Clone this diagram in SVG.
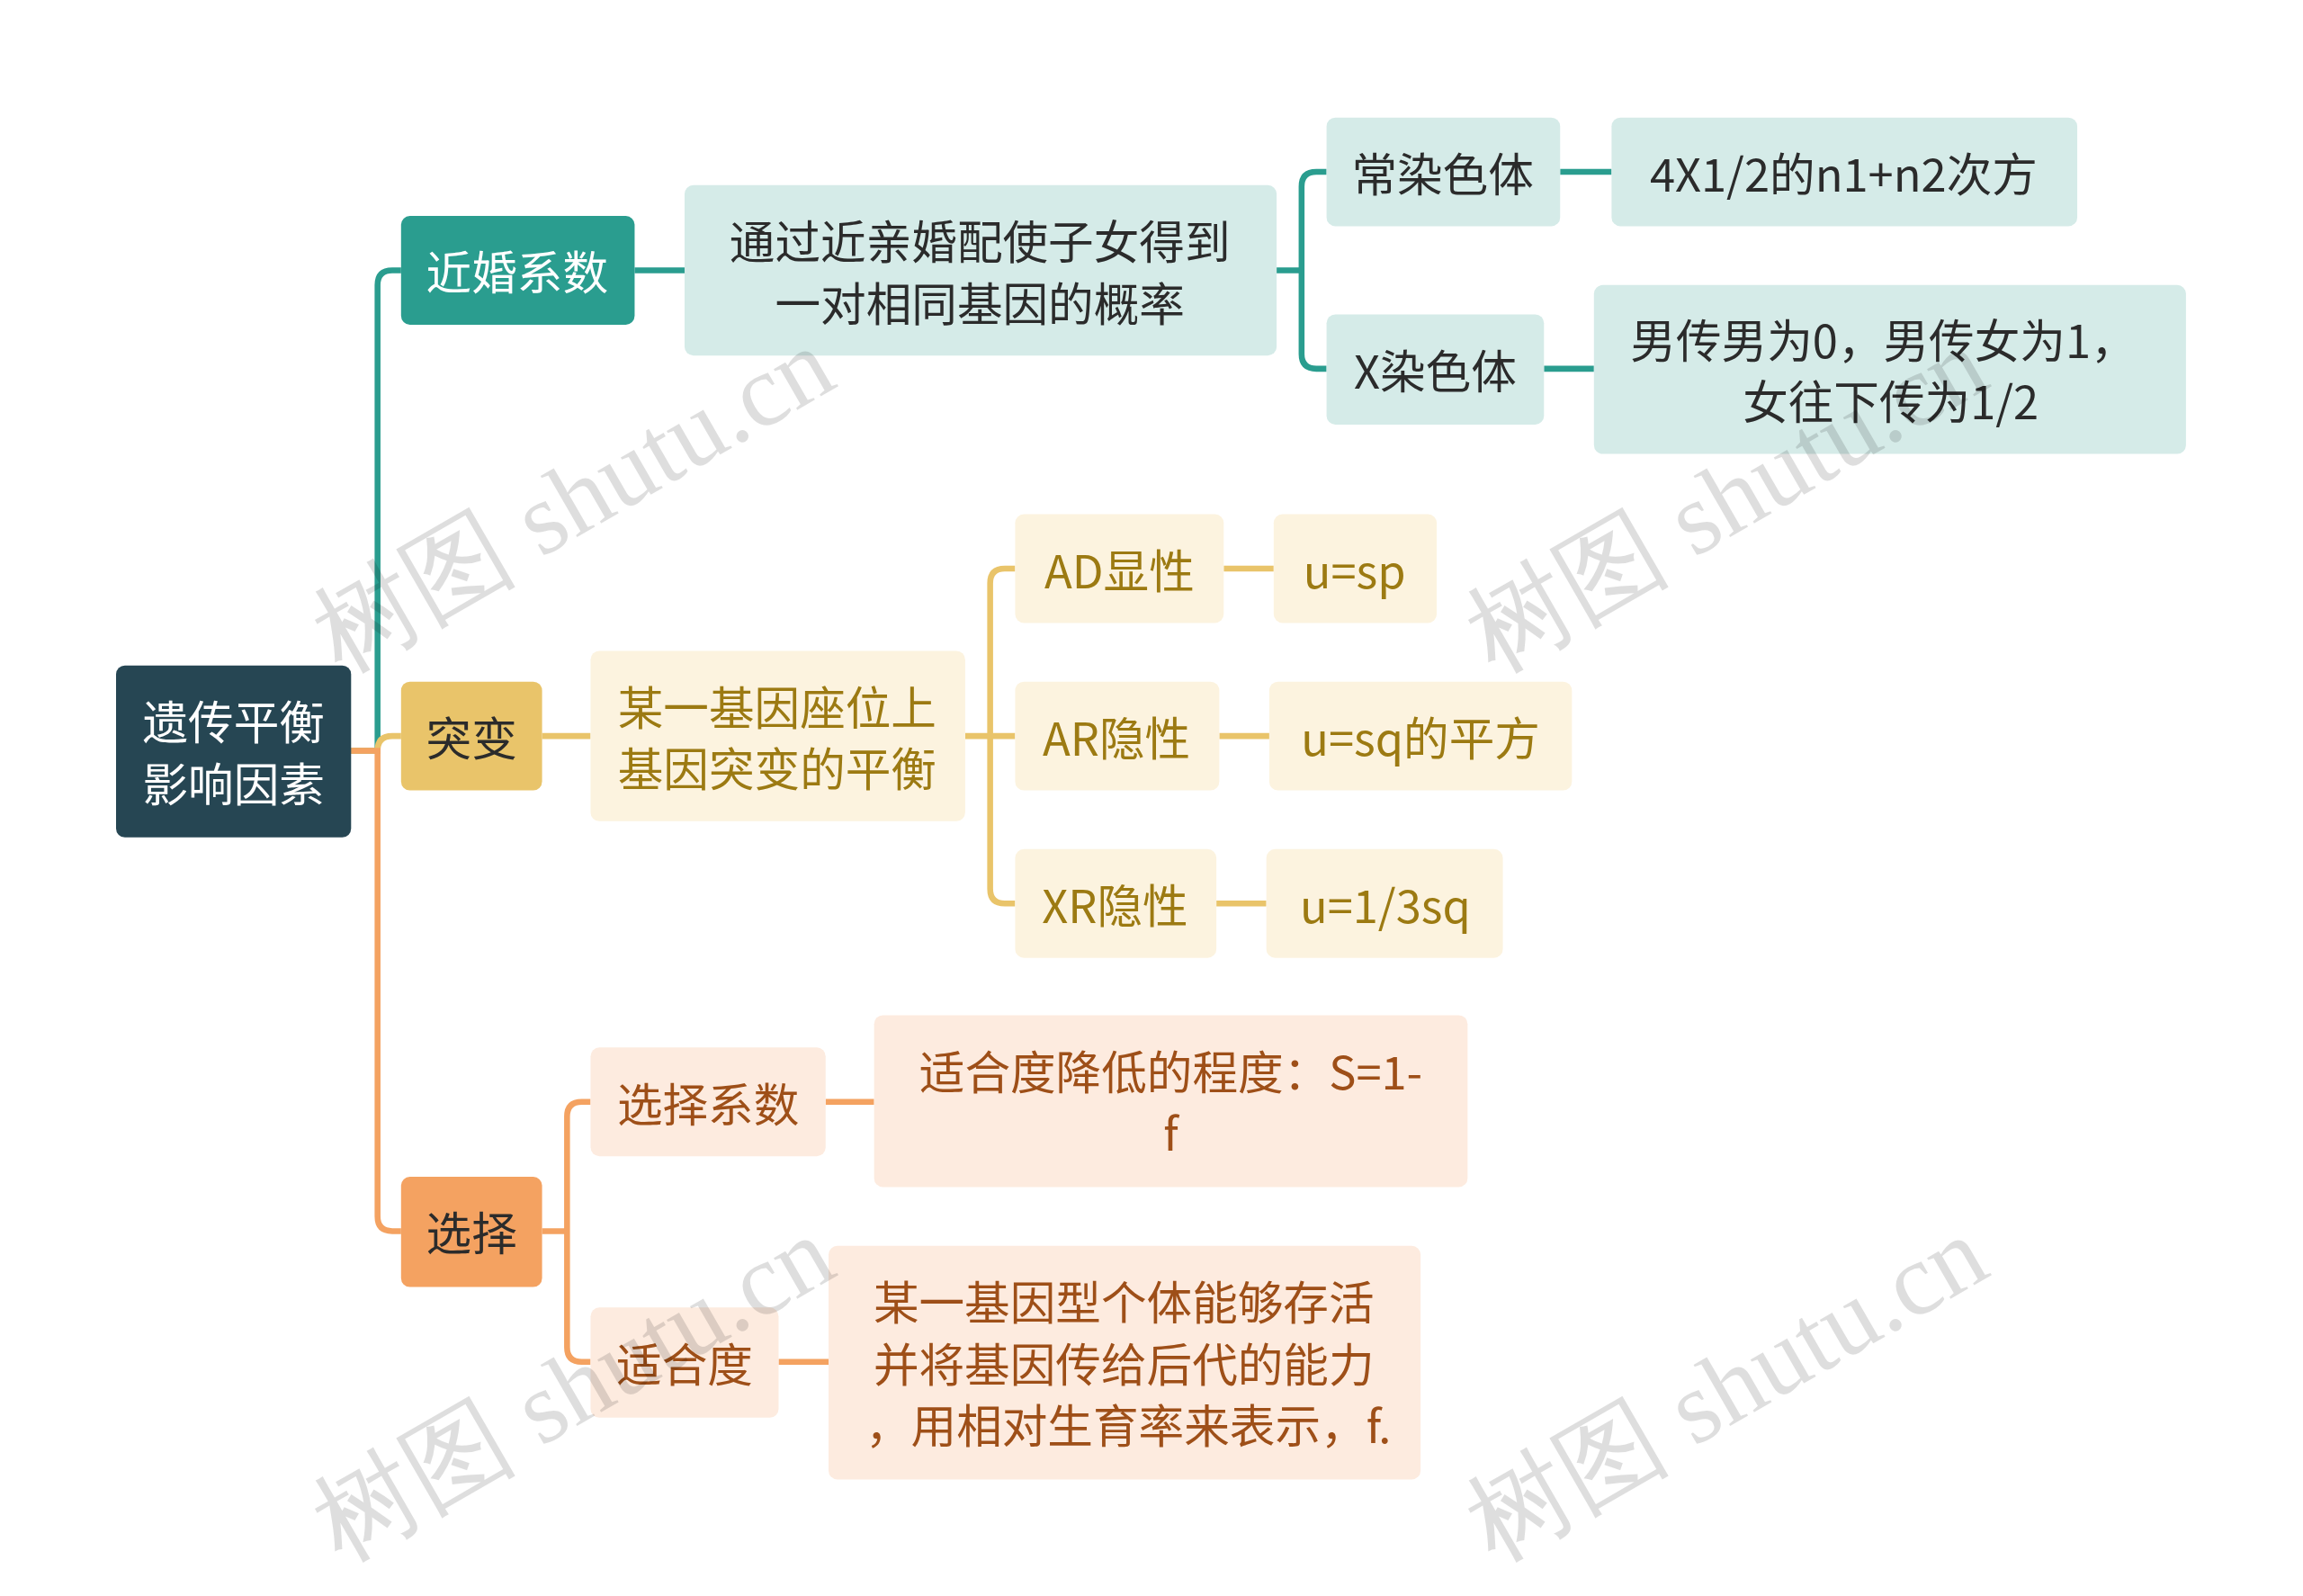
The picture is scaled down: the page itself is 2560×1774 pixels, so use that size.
<svg xmlns="http://www.w3.org/2000/svg" width="2560" height="1774" viewBox="0 0 2560 1774">
<style>
text{font-family:"Noto Sans CJK SC","Noto Sans",sans-serif;font-size:31px;text-anchor:middle;dominant-baseline:central}
.w{fill:#fff}.d{fill:#2b2b2b}.g{fill:#9c7a12}.o{fill:#9e4f18}
.lt{fill:#d5ebe8}.lg{fill:#fcf3df}.lo{fill:#fdebdf}
.ct{stroke:#2a9d8f}.cg{stroke:#e9c46a}.co{stroke:#f4a261}
.wm{font-family:"Liberation Serif",serif;font-size:70px;fill:#000;fill-opacity:0.13;text-anchor:middle}
</style>
<rect width="2560" height="1774" fill="#fff"/>
<g transform="scale(1.633)">
<g id="connectors" fill="none" stroke-width="4">
<path class="ct" d="M239 511 H257 V194 Q257 184 267 184 H273"/>
<path class="cg" d="M239 511 H257 Q257 501 267 501 H273"/>
<path class="co" d="M239 511 H257 V828 Q257 838 267 838 H273"/>
<path class="ct" d="M432 184 H466"/>
<path class="ct" d="M869 184 H886 V127 Q886 117 896 117 H903 M886 184 V241 Q886 251 896 251 H903"/>
<path class="ct" d="M1062 117 H1097 M1051 251 H1085"/>
<path class="cg" d="M369 501 H402"/>
<path class="cg" d="M657 501 H674 V397 Q674 387 684 387 H691 M674 501 H691 M674 501 V605 Q674 615 684 615 H691"/>
<path class="cg" d="M833 387 H867 M830 501 H864 M828 615 H862"/>
<path class="co" d="M369 838 H386 V760 Q386 750 396 750 H402 M386 838 V917 Q386 927 396 927 H402"/>
<path class="co" d="M562 750 H595 M530 927 H564"/>
</g>
<g id="root"><rect x="79" y="453" width="160" height="117" rx="6" fill="#264653"/><text class="w" x="159" y="490">遗传平衡</text><text class="w" x="159" y="532">影响因素</text></g>
<g id="n1"><rect x="273" y="147" width="159" height="74" rx="6" fill="#2a9d8f"/><text class="w" x="352" y="184">近婚系数</text></g>
<g id="n1a"><rect x="466" y="126" width="403" height="116" rx="6" class="lt"/><text class="d" x="667" y="163">通过近亲婚配使子女得到</text><text class="d" x="667" y="205">一对相同基因的概率</text></g>
<g id="n1a1"><rect x="903" y="80" width="159" height="74" rx="6" class="lt"/><text class="d" x="982" y="117">常染色体</text></g>
<g id="n1a1a"><rect x="1097" y="80" width="317" height="74" rx="6" class="lt"/><text class="d" x="1255" y="117">4X1/2的n1+n2次方</text></g>
<g id="n1a2"><rect x="903" y="214" width="148" height="75" rx="6" class="lt"/><text class="d" x="977" y="251">X染色体</text></g>
<g id="n1a2a"><rect x="1085" y="194" width="403" height="115" rx="6" class="lt"/><text class="d" x="1282" y="230">男传男为0，男传女为1，</text><text class="d" x="1287" y="272">女往下传为1/2</text></g>
<g id="n2"><rect x="273" y="464" width="96" height="74" rx="6" fill="#e9c46a"/><text class="d" x="321" y="501">突变</text></g>
<g id="n2a"><rect x="402" y="443" width="255" height="116" rx="6" class="lg"/><text class="g" x="529" y="480">某一基因座位上</text><text class="g" x="529" y="522">基因突变的平衡</text></g>
<g id="n2a1"><rect x="691" y="350" width="142" height="74" rx="6" class="lg"/><text class="g" x="762" y="387">AD显性</text></g>
<g id="n2a1a"><rect x="867" y="350" width="111" height="74" rx="6" class="lg"/><text class="g" x="922" y="387">u=sp</text></g>
<g id="n2a2"><rect x="691" y="464" width="139" height="74" rx="6" class="lg"/><text class="g" x="760" y="501">AR隐性</text></g>
<g id="n2a2a"><rect x="864" y="464" width="206" height="74" rx="6" class="lg"/><text class="g" x="967" y="501">u=sq的平方</text></g>
<g id="n2a3"><rect x="691" y="578" width="137" height="74" rx="6" class="lg"/><text class="g" x="759" y="615">XR隐性</text></g>
<g id="n2a3a"><rect x="862" y="578" width="161" height="74" rx="6" class="lg"/><text class="g" x="943" y="615">u=1/3sq</text></g>
<g id="n3"><rect x="273" y="801" width="96" height="75" rx="6" fill="#f4a261"/><text class="d" x="321" y="838">选择</text></g>
<g id="n3a"><rect x="402" y="713" width="160" height="74" rx="6" class="lo"/><text class="o" x="482" y="750">选择系数</text></g>
<g id="n3a1"><rect x="595" y="691" width="404" height="117" rx="6" class="lo"/><text class="o" x="797" y="728">适合度降低的程度：S=1-</text><text class="o" x="797" y="770">f</text></g>
<g id="n3b"><rect x="402" y="890" width="128" height="75" rx="6" class="lo"/><text class="o" x="466" y="927">适合度</text></g>
<g id="n3b1"><rect x="564" y="848" width="403" height="159" rx="6" class="lo"/><text class="o" x="765" y="885">某一基因型个体能够存活</text><text class="o" x="765" y="927">并将基因传给后代的能力</text><text class="o" x="768" y="969">，用相对生育率来表示，f.</text></g>
<g id="watermarks">
<text class="wm" transform="translate(390,340) rotate(-30)">树图 shutu.cn</text>
<text class="wm" transform="translate(1175,340) rotate(-30)">树图 shutu.cn</text>
<text class="wm" transform="translate(390,945) rotate(-30)">树图 shutu.cn</text>
<text class="wm" transform="translate(1175,945) rotate(-30)">树图 shutu.cn</text>
</g>
</g>
</svg>
